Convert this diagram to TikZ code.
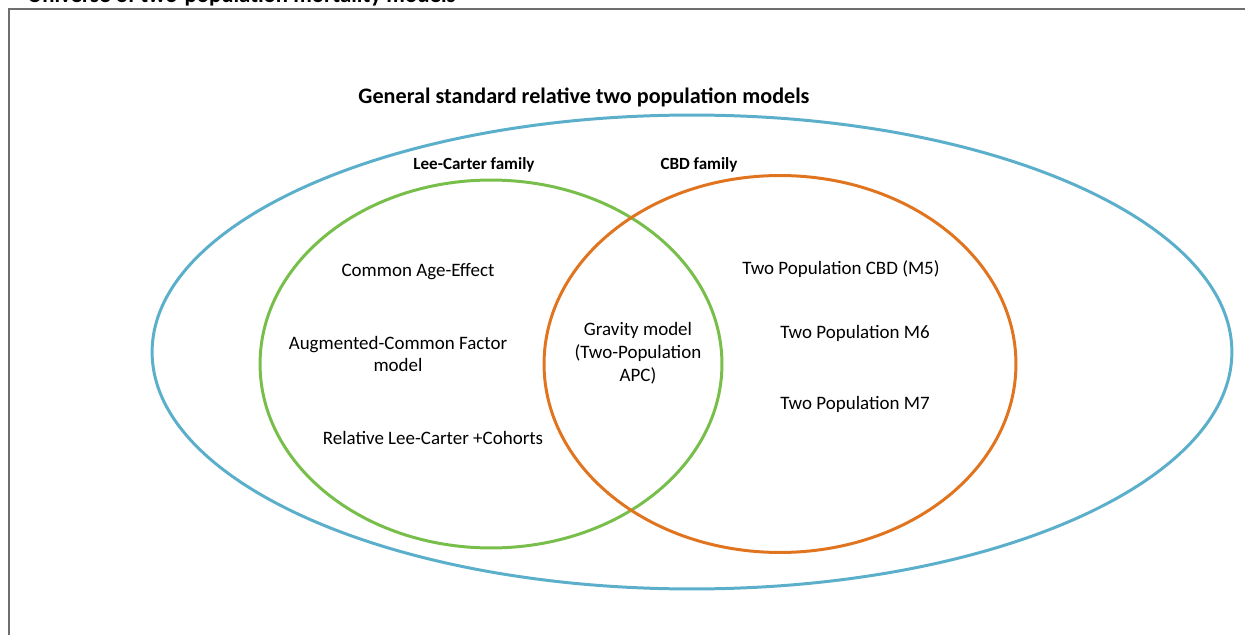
\documentclass[tikz,border=0pt]{standalone}
\usepackage{fontspec}
\setmainfont{Carlito}
\usepackage{tikz}
\usetikzlibrary{positioning}

\definecolor{vennblue}{HTML}{5BAFCB}
\definecolor{venngreen}{HTML}{78BE4A}
\definecolor{vennorange}{HTML}{E0741F}
\definecolor{framegray}{HTML}{6E6E6E}

\begin{document}
\begin{tikzpicture}
[x=0.02cm, y=-0.02cm,
ring/.style={line width=1.7pt},
heading/.style={font=\bfseries\fontsize{12.6}{14}\selectfont},
famlabel/.style={font=\bfseries\fontsize{9.7}{11}\selectfont},
model/.style={font=\fontsize{10.8}{13}\selectfont, align=center, inner sep=0pt},
]
    \useasboundingbox (0,0) rectangle (1245,635);
    % frame of the slide, cut off at top, right and bottom
    \draw[framegray, line width=1.7pt] (9,9) rectangle (1270,660);
    \node (universe) [anchor=base west, inner sep=0pt, font=\bfseries\fontsize{13}{15}\selectfont] at (27,3) {Universe of two-population mortality models};

    \node (general) [heading] at (584,97) {General standard relative two population models};
    \draw[ring, vennblue] (692,352) ellipse [x radius=10.8cm, y radius=4.74cm];
    \draw[ring, venngreen] (491,364) ellipse [x radius=4.62cm, y radius=3.68cm];
    \draw[ring, vennorange] (780,364) ellipse [x radius=4.72cm, y radius=3.77cm];

    \node (lcfam) [famlabel] at (474,165) {Lee-Carter family};
    \node (cbdfam) [famlabel] at (699,165) {CBD family};

    % Lee-Carter side
    \node (ageeff) [model] at (418,272) {Common Age-Effect};
    \node (acf) [model] at (398,354) {Augmented-Common Factor\\model};
    \node (rlcc) [model] at (433,438) {Relative Lee-Carter +Cohorts};
    % overlap
    \node (gravity) [model] at (638,353) {Gravity model\\(Two-Population\\APC)};
    % CBD side
    \node (mfive) [model] at (841,269) {Two Population CBD (M5)};
    \node (msix) [model] at (855,333) {Two Population M6};
    \node (mseven) [model] at (855,404) {Two Population M7};
\end{tikzpicture}
\end{document}
